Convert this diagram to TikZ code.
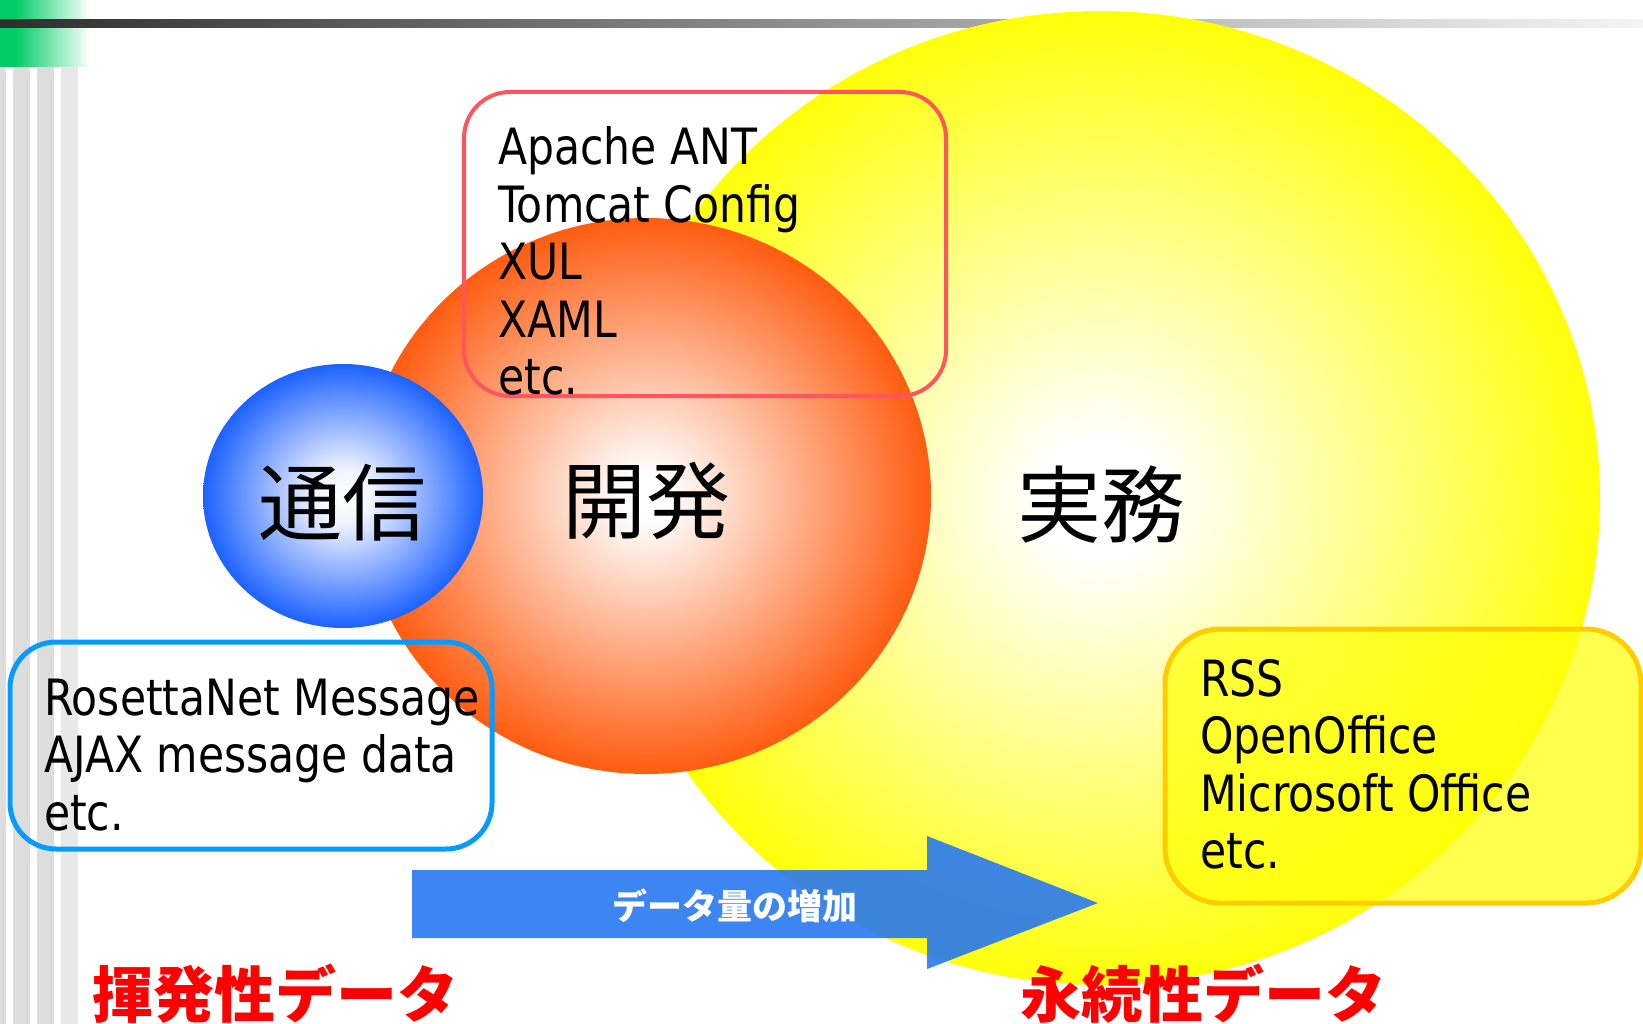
\documentclass[tikz,border=0pt]{standalone}
\usepackage{fontspec}
\setmainfont{DejaVu Sans}[FakeStretch=0.85]
\newfontfamily\cjk{Noto Sans CJK JP}
\definecolor{myyellow}{RGB}{255,255,10}
\definecolor{myorange}{RGB}{255,92,16}
\definecolor{myblue}{RGB}{28,98,255}
\definecolor{blueinner}{RGB}{242,244,255}
\definecolor{redbox}{RGB}{255,85,95}
\definecolor{bluebox}{RGB}{8,155,255}
\definecolor{goldbox}{RGB}{255,204,0}
\definecolor{arrowblue}{RGB}{40,120,240}
\definecolor{labelred}{RGB}{255,0,0}
\definecolor{greenone}{RGB}{0,204,102}
\definecolor{stripeA}{RGB}{221,221,221}
\definecolor{stripeB}{RGB}{232,232,232}
\definecolor{bardark}{RGB}{46,46,46}
\pgfdeclareradialshading{yelsh}{\pgfpoint{0bp}{0bp}}{color(0bp)=(white); color(3bp)=(white); color(25bp)=(myyellow); color(50bp)=(myyellow)}
\pgfdeclareradialshading{orgsh}{\pgfpoint{0bp}{0bp}}{color(0bp)=(white); color(2bp)=(white); color(25bp)=(myorange); color(50bp)=(myorange)}
\pgfdeclareradialshading{blush}{\pgfpoint{0bp}{0bp}}{color(0bp)=(white); color(5bp)=(blueinner); color(25bp)=(myblue); color(50bp)=(myblue)}
\tikzset{
  lat/.style={font=\fontsize{50}{58}\selectfont, inner sep=0pt, anchor=base west},
  bigjp/.style={font=\cjk\fontsize{84}{90}\selectfont, inner sep=0pt},
  redlab/.style={font=\cjk\bfseries\fontsize{61}{66}\selectfont, text=labelred, inner sep=0pt, anchor=west},
  boxframe/.style={line width=5pt, rounded corners=46pt},
}
\begin{document}
\begin{tikzpicture}[x=1pt,y=-1pt]
\useasboundingbox (0,0) rectangle (1643,1024);
\fill[white] (0,0) rectangle (1643,1024);
% header decoration
\fill[greenone] (0,0) rectangle (15,67);
\shade[left color=greenone, right color=white] (15,0) rectangle (90,67);
\shade[left color=bardark, right color=white!96!black] (0,20) rectangle (1643,28);
% left stripes
\fill[stripeA] (0,67) rectangle (6,1024);
\fill[stripeA] (13,67) rectangle (30,1024);
\fill[stripeA] (37,67) rectangle (54,1024);
\fill[stripeB] (61,67) rectangle (78,1024);
% circles
\shade[shading=yelsh] (1100,498) ellipse [x radius=500pt, y radius=487pt];
\shade[shading=orgsh] (646,496) ellipse [x radius=285pt, y radius=278pt];
\shade[shading=blush] (343,496) ellipse [x radius=140pt, y radius=132pt];
% boxes
\draw[boxframe, redbox, line width=4pt] (464,92) rectangle (946,396);
\draw[boxframe, bluebox] (10,642) rectangle (492,849);
\draw[boxframe, goldbox, fill=myyellow, fill opacity=0.72, rounded corners=55pt] (1165,629) rectangle (1641,903);
% arrow
\fill[arrowblue, fill opacity=0.9] (412,870) -- (927,870) -- (927,836) -- (1098,903) -- (927,969) -- (927,938) -- (412,938) -- cycle;
\node[font=\cjk\bfseries\fontsize{35}{40}\selectfont, text=white, inner sep=0pt] (flow) at (735,906) {データ量の増加};
% central labels
\node[bigjp] (tsushin) at (342,503) {通信};
\node[bigjp] (kaihatsu) at (646,501) {開発};
\node[bigjp] (jitsumu) at (1101,505) {実務};
% box texts
\foreach \t [count=\i] in {Apache ANT, Tomcat Config, XUL, XAML, etc.}
  \node[lat] (dev\i) at (498,{164.5+57.6*(\i-1)}) {\t};
\foreach \t [count=\i] in {RosettaNet Message, AJAX message data, etc.}
  \node[lat] (com\i) at (44,{715+57.6*(\i-1)}) {\t};
\foreach \t [count=\i] in {RSS, OpenOffice, Microsoft Office, etc.}
  \node[lat] (biz\i) at (1200,{696+57.6*(\i-1)}) {\t};
% bottom labels
\node[redlab] (volatile) at (92,994) {揮発性データ};
\node[redlab] (persistent) at (1020,994) {永続性データ};
\end{tikzpicture}
\end{document}
